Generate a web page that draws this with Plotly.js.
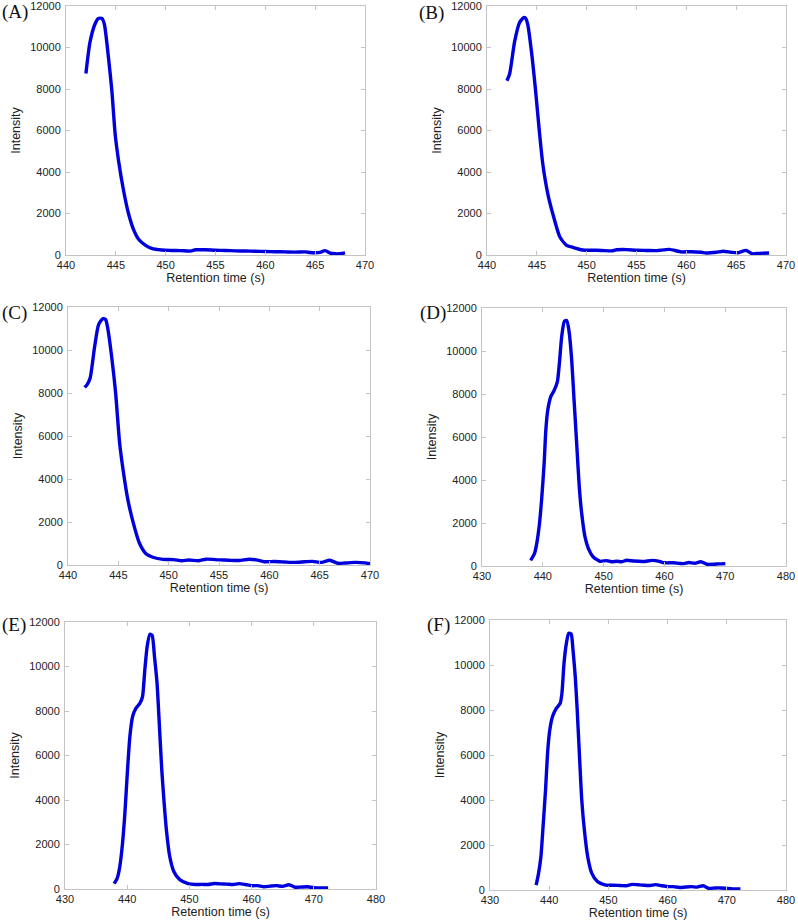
<!DOCTYPE html>
<html>
<head>
<meta charset="utf-8">
<script src="https://cdn.plot.ly/plotly-3.0.1.min.js"></script>
<style>html,body{margin:0;padding:0;background:#fff}#chart{width:798px;height:922px}</style>
</head>
<body>
<div id="chart"></div>
<script>
// ---- data ----
const panelLabels = ["(A)", "(B)", "(C)", "(D)", "(E)", "(F)"];
const xTitle = "Retention time (s)";
const yTitle = "Intensity";
const yTicks = [0, 2000, 4000, 6000, 8000, 10000, 12000];

const xA = [442.0, 442.4, 442.9, 443.25, 443.6, 443.85, 444.26, 444.6, 444.93, 445.27, 445.77, 446.27, 446.8, 447.3, 447.95, 448.6, 449.6, 450.5, 451.5, 452.5, 453.0, 454.0, 455.0, 456.0, 457.0, 458.0, 459.0, 460.0, 461.0, 462.0, 463.0, 464.0, 464.5, 465.0, 465.5, 466.0, 466.5, 467.0, 467.5, 468.0];
const yA = [8750, 10240, 11120, 11400, 11400, 11120, 9520, 7920, 5840, 4560, 3120, 2000, 1200, 750, 480, 320, 240, 220, 210, 190, 250, 250, 230, 220, 200, 190, 180, 170, 160, 150, 140, 150, 120, 110, 130, 210, 90, 60, 60, 100];

const xB = [442.0, 442.27, 442.77, 443.27, 443.68, 443.88, 444.1, 444.54, 444.88, 445.28, 445.6, 446.1, 446.6, 447.3, 447.95, 448.6, 449.6, 450.5, 451.5, 452.5, 453.0, 454.0, 455.0, 456.0, 457.0, 458.3, 459.5, 460.5, 461.5, 462.0, 463.0, 463.7, 464.5, 465.2, 466.0, 466.6, 467.3, 468.3];
const yB = [8400, 8720, 10280, 11200, 11440, 11400, 11080, 9480, 7890, 5820, 4380, 2950, 1990, 880, 480, 370, 240, 230, 220, 200, 250, 260, 230, 220, 210, 270, 150, 160, 130, 100, 130, 180, 130, 110, 220, 60, 80, 100];

const xC = [441.65, 441.9, 442.2, 442.65, 443.04, 443.47, 443.74, 443.97, 444.37, 444.73, 445.13, 445.52, 445.95, 446.45, 447.1, 447.77, 448.43, 449.43, 450.5, 451.3, 452.0, 453.0, 453.7, 455.0, 456.0, 457.0, 458.0, 458.7, 459.5, 460.5, 461.5, 462.5, 463.5, 464.3, 465.2, 466.0, 466.8, 467.5, 468.5, 469.5, 470.0];
const yC = [8260, 8390, 8700, 10170, 11180, 11460, 11410, 10950, 9550, 8000, 5670, 4270, 3030, 2020, 1010, 510, 360, 260, 250, 200, 230, 200, 270, 240, 220, 210, 270, 240, 150, 160, 140, 120, 150, 170, 120, 220, 80, 90, 120, 100, 60];

const xD = [438.0, 438.63, 439.0, 439.45, 439.84, 440.22, 440.5, 440.82, 441.31, 441.86, 442.4, 442.73, 443.11, 443.55, 443.93, 444.32, 444.75, 445.14, 445.57, 446.0, 446.4, 446.94, 447.5, 448.3, 449.4, 450.5, 451.3, 452.2, 453.0, 453.8, 455.0, 456.5, 458.0, 459.0, 460.0, 461.5, 463.0, 464.0, 465.0, 466.0, 467.0, 468.0, 469.0, 470.0];
const yD = [260, 575, 1040, 1970, 3220, 4770, 6330, 7260, 7880, 8160, 8580, 9440, 10680, 11380, 11420, 10910, 9590, 7730, 5700, 3680, 2440, 1350, 810, 420, 220, 250, 200, 220, 200, 270, 230, 210, 260, 230, 150, 150, 110, 160, 130, 200, 80, 80, 100, 110];

const xE = [437.9, 438.4, 438.82, 439.25, 439.63, 440.05, 440.43, 440.86, 441.39, 442.03, 442.46, 442.83, 443.2, 443.64, 444.0, 444.39, 444.8, 445.13, 445.56, 445.94, 446.3, 446.84, 447.49, 448.45, 449.79, 451.0, 452.0, 453.0, 454.0, 455.0, 456.0, 457.0, 458.0, 459.0, 460.0, 461.0, 462.0, 463.0, 464.0, 465.0, 466.0, 467.0, 468.0, 469.0, 470.0, 471.0, 472.3];
const yE = [240, 490, 1020, 2060, 3410, 5350, 6850, 7740, 8120, 8340, 8640, 9840, 10880, 11450, 11400, 10430, 9240, 7590, 5350, 3860, 2660, 1460, 790, 420, 240, 200, 210, 200, 250, 230, 220, 200, 240, 200, 150, 150, 100, 130, 150, 120, 190, 80, 90, 100, 60, 50, 50];

const xF = [437.8, 438.2, 438.6, 439.0, 439.38, 439.76, 440.1, 440.55, 441.2, 441.86, 442.15, 442.5, 442.9, 443.3, 443.7, 444.02, 444.4, 444.73, 445.12, 445.5, 445.94, 446.5, 447.2, 448.16, 449.55, 451.0, 452.0, 453.0, 454.0, 455.0, 456.0, 457.0, 458.0, 459.0, 460.0, 461.0, 462.0, 463.0, 464.0, 465.0, 466.0, 467.0, 468.0, 469.0, 470.0, 471.0, 472.3];
const yF = [220, 740, 1480, 2960, 4440, 6220, 7110, 7700, 8070, 8300, 8740, 10070, 10960, 11410, 11380, 10670, 9480, 8000, 5930, 4000, 2670, 1480, 740, 370, 220, 210, 200, 190, 250, 230, 210, 200, 240, 190, 150, 150, 110, 130, 150, 130, 190, 70, 90, 90, 70, 50, 50];

const seriesX = [xA, xB, xC, xD, xE, xF];
const seriesY = [yA, yB, yC, yD, yE, yF];
const xRanges = [[440, 470], [440, 470], [440, 470], [430, 480], [430, 480], [430, 480]];
const xDtick = [5, 5, 5, 10, 10, 10];

// ---- layout (pixel boxes of each panel) ----
const W = 798, H = 922;
const boxes = [ // [left, right, top, bottom] in px
  [66, 365, 6, 255],
  [487, 786, 6, 255],
  [68, 370, 307, 565],
  [482, 786, 308, 566],
  [65, 376, 622, 889],
  [490, 786, 620, 890]
];
const labelPos = [[0, 12], [417, 13], [0, 313], [418, 313], [0, 625], [425, 625]];

const traces = [];
const layout = {
  width: W, height: H,
  margin: {l: 0, r: 0, t: 0, b: 0},
  paper_bgcolor: "#fff", plot_bgcolor: "#fff",
  showlegend: false,
  font: {family: "Liberation Sans, Arial, sans-serif", color: "#222"},
  annotations: []
};

for (let i = 0; i < 6; i++) {
  const n = i === 0 ? "" : String(i + 1);
  traces.push({
    type: "scatter", mode: "lines",
    x: seriesX[i], y: seriesY[i],
    xaxis: "x" + n, yaxis: "y" + n,
    line: {color: "#0000dd", width: 3.4, shape: "spline", smoothing: 0.6},
    hoverinfo: "skip"
  });
  const b = boxes[i];
  const common = {
    showgrid: false, zeroline: false,
    showline: true, linecolor: "#c4c4c4", linewidth: 1, mirror: "ticks",
    ticks: "inside", ticklen: 4, tickcolor: "#c4c4c4", tickwidth: 1,
    ticklabeloverflow: "allow",
    tickfont: {family: "Liberation Sans, Arial, sans-serif", size: 11, color: "#222"},
    fixedrange: true
  };
  layout["xaxis" + n] = Object.assign({}, common, {
    domain: [b[0] / W, b[1] / W],
    anchor: "y" + n,
    range: xRanges[i], tickmode: "linear", tick0: 430, dtick: xDtick[i],
    ticklabelstandoff: 0,
    title: {text: xTitle, standoff: 2, font: {family: "Liberation Sans, Arial, sans-serif", size: 12.5, color: "#222"}}
  });
  layout["yaxis" + n] = Object.assign({}, common, {
    domain: [1 - b[3] / H, 1 - b[2] / H],
    anchor: "x" + n,
    range: [0, 12000], tickmode: "array", tickvals: yTicks, ticktext: yTicks.map(String),
    ticklabelstandoff: 2,
    title: {text: yTitle, standoff: 6, font: {family: "Liberation Sans, Arial, sans-serif", size: 12.5, color: "#222"}}
  });
  layout.annotations.push({
    text: panelLabels[i], xref: "paper", yref: "paper",
    x: labelPos[i][0] / W, y: 1 - labelPos[i][1] / H,
    xanchor: "left", yanchor: "middle", showarrow: false,
    font: {family: "Liberation Serif, Times New Roman, serif", size: 19, color: "#111"}
  });
}

Plotly.newPlot("chart", traces, layout, {staticPlot: true, displayModeBar: false});
</script>
</body>
</html>
